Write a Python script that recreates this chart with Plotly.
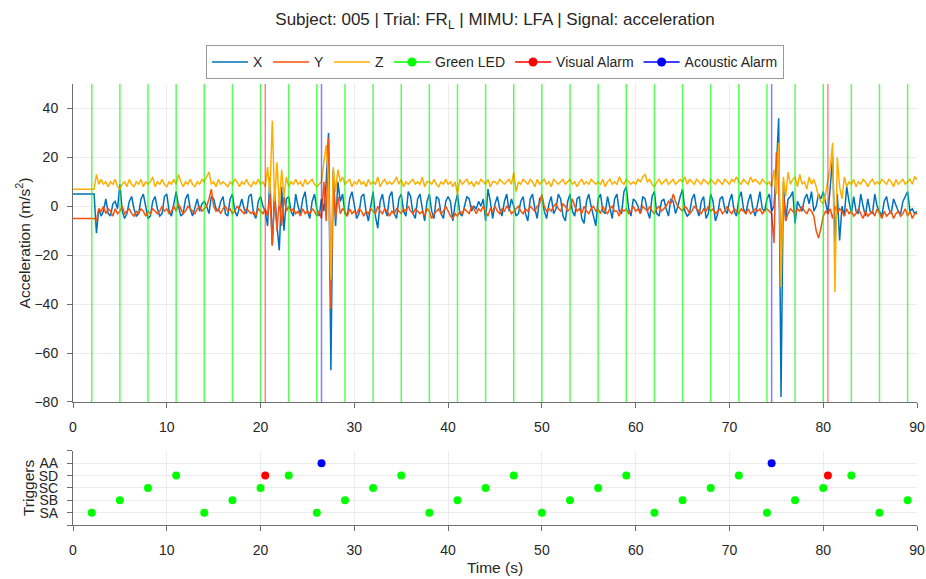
import plotly.graph_objects as go

# ---------------- data ----------------
SAMPLE_STEP = 0.25  # seconds between samples

# Acceleration, X axis (m/s^2), one row per second (4 samples each), last value at t=90
ACC_X = [
    5, 5, 5, 5,
    5, 5, 5, 5,
    5, 5, -11, -1,
    -4, -2, 3, -3,
    -4, 1, 2, -1,
    9, -2, -5, -3,
    2, 4, -1, -4,
    -3, 3, 5, 0,
    -5, -4, 2, 4,
    -1, -4, -3, 4,
    5, -2, -4, 1,
    6, 0, -4, -3,
    3, 5, -1, -4,
    0, 3, -2, 1,
    2, 0, -3, 4,
    3, -1, -2, 2,
    4, -3, -4, 3,
    5, -2, -4, 0,
    3, -1, -3, 4,
    5, -3, -5, 2,
    4, 0, -2, -8,
    12, -16, 6, -8,
    -18, 8, -10, 3,
    4, -2, -4, 5,
    0, -3, 3, 6,
    -2, -5, 2, 5,
    -1, -4, 3, -2,
    10, 30, -67, 15,
    -8, 10, 2, 5,
    -3, -4, 3, 6,
    0, -5, -3, 4,
    5, -2, -6, 1,
    6, -4, -9, 2,
    5, -1, -4, 4,
    6, -3, -5, 3,
    5, -2, -4, 6,
    4, -3, -5, 3,
    5, -1, -6, 2,
    5, -2, -5, 4,
    3, -3, -5, 2,
    4, 2, -6, 1,
    5, -3, -4, 0,
    4, 3, -2, 0,
    -1, 2, 0, 3,
    -6, 7, 2, -5,
    1, 4, -1, -4,
    2, 5, -2, 3,
    0, -4, -3, 2,
    4, -3, -6, 3,
    5, -1, -5, 3,
    4, -2, -5, 1,
    4, -3, -1, 5,
    3, -4, -6, 2,
    5, -2, -4, 3,
    4, -5, -7, 2,
    5, 0, -4, -8,
    3, 5, -2, -3,
    4, -1, -5, 3,
    5, -2, -3, 6,
    8, -1, -4, 3,
    2, 0, -3, 4,
    3, -2, -5, 4,
    6, -3, -4, 2,
    3, -1, -4, 3,
    2, -3, 0, 4,
    7, -2, -4, -3,
    3, 5, -1, -4,
    2, 4, -5, -3,
    5, 2, -6, -3,
    3, 4, -1, -3,
    2, 5, -2, -4,
    3, 6, -1, -3,
    2, 5, -1, -4,
    1, 6, -1, -2,
    3, 5, -2, 0,
    15, 36, -78, 10,
    -6, 3, 4, 6,
    -7, 2, 0, -2,
    3, 5, 1, 6,
    -2, 0, 5, 3,
    6, 2, -3, 8,
    20, -15, 5, -14,
    0, -4, 8, 2,
    -3, 4, -2, -3,
    5, 0, -4, 3,
    -2, -3, 5, 0,
    -2, -4, 2, 4,
    -1, -3, 3, 0,
    -2, -3, 2, 4,
    6, -2, -1, -3,
    -2,
]

# Acceleration, Y axis (m/s^2)
ACC_Y = [
    -5, -5, -5, -5,
    -5, -5, -5, -5,
    -5, -5, -6, -1,
    -2, 0, -3, -1,
    -2, -4, -1, -3,
    -2, 0, -3, -2,
    -1, -3, -4, -2,
    -3, -1, -2, -4,
    -2, -3, -1, -2,
    -3, -2, 0, -2,
    -1, -3, -2, 0,
    -2, 1, -1, -3,
    -2, 0, -1, -2,
    -3, -1, 0, -2,
    -1, 0, 3, 7,
    0, -2, -1, -3,
    -1, 0, -2, -1,
    -3, -2, 0, -1,
    -2, -3, -1, -2,
    -3, -2, -4, -1,
    -2, -3, -1, -4,
    5, -16, 4, -10,
    3, -8, 4, -2,
    0, -2, -1, -3,
    -2, -4, -1, -3,
    -2, -3, -1, -2,
    -4, -2, -5, 10,
    -6, 28, -42, 12,
    -5, 4, -3, -1,
    -2, -4, -1, -3,
    -2, -3, -1, -2,
    -4, -2, -3, -1,
    -2, -3, 0, -2,
    -3, -1, -2, -4,
    -2, -3, -1, -2,
    -3, -1, -2, 0,
    -2, -3, -1, -2,
    -3, -2, -4, -1,
    -2, -5, -3, -2,
    -1, -3, -2, 0,
    -2, -4, -5, -3,
    -4, -2, -3, -1,
    -2, -3, 0, -1,
    -3, -1, -2, 0,
    -2, -4, -1, -2,
    0, -2, -3, -1,
    -2, 0, -1, -3,
    -2, -1, 0, -2,
    -3, -1, -2, 0,
    -1, -2, 0, 1,
    5, 0, -2, -1,
    -2, 0, 1, -1,
    -2, 1, 0, -2,
    -1, 3, 0, -2,
    -1, -3, 0, -2,
    -3, -1, 0, -2,
    -1, -3, 0, -2,
    -3, -1, 0, -2,
    -2, -4, -1, -2,
    -1, -3, -2, 0,
    -2, -1, -3, 0,
    -1, -2, 0, -2,
    -3, -1, 0, -2,
    -1, 0, 2, 1,
    5, 2, 0, -1,
    -2, 0, -1, -3,
    -2, 0, -1, -2,
    -3, -1, -2, 0,
    -2, -1, -3, -2,
    -1, -3, -2, 0,
    -2, -3, -1, -2,
    -3, -1, -2, -3,
    -1, -3, -2, -1,
    -2, -1, -3, -2,
    -1, -2, -3, -15,
    22, 8, -16, 5,
    -6, -3, -1, -2,
    -3, -1, -2, 0,
    -2, -3, -1, -2,
    -4, -10, -13, -9,
    -4, -2, -3, -1,
    -5, 0, -3, -1,
    -2, -4, -1, -3,
    -2, -4, -3, -1,
    -3, -5, -2, -4,
    -3, -2, -4, -1,
    -3, -5, -2, -4,
    -3, -2, -5, -3,
    -2, -4, -3, -1,
    -4, -2, -5, -3,
    -3,
]

# Acceleration, Z axis (m/s^2)
ACC_Z = [
    7, 7, 7, 7,
    7, 7, 7, 7,
    7, 7, 13, 9,
    11, 9, 10, 8,
    10, 9, 11, 8,
    7, 9, 10, 8,
    11, 9, 8, 10,
    9, 11, 8, 10,
    9, 10, 12, 8,
    10, 9, 11, 9,
    8, 10, 9, 11,
    9, 13, 10, 8,
    10, 9, 11, 9,
    8, 10, 9, 11,
    10, 12, 14, 9,
    10, 8, 11, 9,
    10, 9, 8, 10,
    9, 11, 10, 8,
    10, 9, 11, 9,
    8, 10, 9, 11,
    9, 10, 8, 16,
    5, 35, 2, 18,
    0, 15, 4, 12,
    8, 10, 9, 11,
    9, 10, 8, 11,
    9, 10, 11, 9,
    8, 9, 10, 18,
    25, 10, -30, 16,
    6, 15, 10, 12,
    9, 10, 11, 8,
    10, 9, 11, 9,
    10, 8, 11, 9,
    10, 9, 12, 8,
    10, 11, 9, 10,
    9, 10, 12, 9,
    11, 8, 10, 9,
    10, 11, 9, 10,
    9, 12, 8, 10,
    10, 9, 11, 9,
    8, 10, 9, 11,
    9, 10, 8, 10,
    5, 11, 9, 10,
    11, 9, 10, 8,
    10, 9, 11, 10,
    9, 11, 8, 10,
    10, 9, 11, 10,
    9, 10, 11, 9,
    14, 6, 10, 9,
    11, 10, 9, 11,
    10, 8, 11, 9,
    10, 11, 9, 10,
    8, 11, 10, 9,
    10, 11, 9, 10,
    11, 9, 10, 8,
    10, 11, 9, 10,
    9, 11, 10, 9,
    10, 9, 11, 8,
    10, 11, 9, 10,
    9, 12, 10, 9,
    11, 10, 9, 10,
    9, 11, 10, 12,
    13, 10, 11, 9,
    8, 10, 11, 9,
    10, 11, 9, 10,
    11, 9, 10, 11,
    10, 12, 9, 11,
    10, 9, 11, 10,
    9, 11, 10, 9,
    11, 10, 9, 11,
    10, 9, 11, 10,
    9, 11, 10, 12,
    10, 9, 11, 10,
    9, 12, 10, 11,
    10, 9, 11, 10,
    9, 10, 8, 15,
    5, 26, -33, 12,
    4, 14, 9, 11,
    12, 8, 13, 9,
    10, 7, 12, 9,
    11, 8, 4, 2,
    1, 5, 10, 16,
    26, -35, 20, 8,
    3, 12, 8, 10,
    9, 11, 8, 10,
    9, 11, 10, 8,
    10, 11, 9, 10,
    9, 11, 10, 9,
    11, 10, 8, 11,
    9, 10, 11, 9,
    10, 11, 9, 12,
    11,
]

# Trigger events
TRIGGER_LEVELS = ["SA", "SB", "SC", "SD", "AA"]
LED_TIMES = [2, 5, 8, 11, 14, 17, 20, 23, 26, 29, 32, 35, 38, 41, 44,
             47, 50, 53, 56, 59, 62, 65, 68, 71, 74, 77, 80, 83, 86, 89]
LED_LEVELS = ["SA", "SB", "SC", "SD", "SA", "SB", "SC", "SD", "SA", "SB",
              "SC", "SD", "SA", "SB", "SC", "SD", "SA", "SB", "SC", "SD",
              "SA", "SB", "SC", "SD", "SA", "SB", "SC", "SD", "SA", "SB"]
VISUAL_TIMES = [20.5, 80.5]
VISUAL_LEVELS = ["SD", "SD"]
ACOUSTIC_TIMES = [26.5, 74.5]
ACOUSTIC_LEVELS = ["AA", "AA"]

X_TICKS = [0, 10, 20, 30, 40, 50, 60, 70, 80, 90]
Y_TICKS = [-80, -60, -40, -20, 0, 20, 40]
Y_RANGE = [-80, 50]

# ---------------- figure ----------------
n = min(len(ACC_X), len(ACC_Y), len(ACC_Z))
t = [i * SAMPLE_STEP for i in range(n)]

C_X, C_Y, C_Z = "#0072BD", "#F8520C", "#FFAE00"
C_G, C_R, C_B = "#00FF00", "#FF0000", "#0000FF"
FONT = "Liberation Sans, Arial, sans-serif"
TXT = "#262626"
AX = "#6e6e6e"
GRID = "#ececec"


def vlines(times):
    xs, ys = [], []
    for v in times:
        xs += [v, v, None]
        ys += [Y_RANGE[0], Y_RANGE[1], None]
    return xs, ys


def lvl(levels):
    return [TRIGGER_LEVELS.index(s) + 1 for s in levels]


fig = go.Figure()
fig.add_trace(go.Scatter(x=t, y=ACC_X[:n], mode="lines", name="X",
                         line=dict(color=C_X, width=1.5)))
fig.add_trace(go.Scatter(x=t, y=ACC_Y[:n], mode="lines", name="Y",
                         line=dict(color=C_Y, width=1.5)))
fig.add_trace(go.Scatter(x=t, y=ACC_Z[:n], mode="lines", name="Z",
                         line=dict(color=C_Z, width=1.5)))

for times, col, w in [(LED_TIMES, "rgba(0,255,0,0.65)", 1.5),
                      (VISUAL_TIMES, "rgba(255,0,0,0.6)", 1.2),
                      (ACOUSTIC_TIMES, "rgba(0,0,255,0.5)", 1.5)]:
    xs, ys = vlines(times)
    fig.add_trace(go.Scatter(x=xs, y=ys, mode="lines", showlegend=False,
                             line=dict(color=col, width=w), hoverinfo="skip"))

for name, col in [("Green LED", C_G), ("Visual Alarm", C_R), ("Acoustic Alarm", C_B)]:
    fig.add_trace(go.Scatter(x=[None], y=[None], mode="lines+markers", name=name,
                             line=dict(color=col, width=1.5),
                             marker=dict(color=col, size=9)))

for times, levels, col in [(LED_TIMES, LED_LEVELS, C_G),
                           (VISUAL_TIMES, VISUAL_LEVELS, C_R),
                           (ACOUSTIC_TIMES, ACOUSTIC_LEVELS, C_B)]:
    fig.add_trace(go.Scatter(x=times, y=lvl(levels), mode="markers", showlegend=False,
                             marker=dict(color=col, size=8), xaxis="x2", yaxis="y2"))

axis_common = dict(showline=True, linecolor=AX, linewidth=1, ticks="outside",
                   ticklen=5, tickcolor=AX, showgrid=True, gridcolor=GRID,
                   zeroline=False, automargin=False,
                   tickfont=dict(size=14, color=TXT, family=FONT))
TITLE_FONT = dict(size=15.5, color=TXT, family=FONT)

fig.update_layout(
    width=926, height=579,
    margin=dict(l=73, r=9, t=84, b=54, autoexpand=False),
    paper_bgcolor="white", plot_bgcolor="white",
    font=dict(family=FONT, color=TXT, size=14),
    title=dict(text="Subject: 005 | Trial: FR<sub>L</sub> | MIMU: LFA | Signal: acceleration",
               x=0.5, xref="paper", xanchor="center", y=0.967, yanchor="middle",
               font=dict(size=17, color=TXT, family=FONT)),
    legend=dict(orientation="h", x=0.5, xanchor="center", y=1.049, yanchor="middle",
                bgcolor="white", bordercolor="#9a9a9a", borderwidth=1,
                font=dict(size=14, color=TXT, family=FONT), tracegroupgap=0,
                itemwidth=36),
    showlegend=True,
    xaxis=dict(domain=[0, 1], anchor="y", range=[0, 90], tickvals=X_TICKS,
               ticklabelstandoff=7, **axis_common),
    yaxis=dict(domain=[0.279, 1], anchor="x", range=Y_RANGE, tickvals=Y_TICKS,
               ticklabelstandoff=6,
               title=dict(text="Acceleration (m/s<sup>2</sup>)", standoff=0, font=TITLE_FONT),
               **axis_common),
    xaxis2=dict(domain=[0, 1], anchor="y2", range=[0, 90], tickvals=X_TICKS,
                ticklabelstandoff=7,
                title=dict(text="Time (s)", standoff=5, font=TITLE_FONT),
                **axis_common),
    yaxis2=dict(domain=[0, 0.168], anchor="x2", range=[0, 6], tickvals=[0, 1, 2, 3, 4, 5, 6],
                ticktext=[""] + TRIGGER_LEVELS + [""], ticklabelstandoff=6,
                title=dict(text="Triggers", standoff=0, font=TITLE_FONT),
                **axis_common),
)

fig.write_html("out.html",
               config={"displayModeBar": False},
               post_script="document.body.style.margin='0';"
                           "document.documentElement.style.overflow='hidden';")
